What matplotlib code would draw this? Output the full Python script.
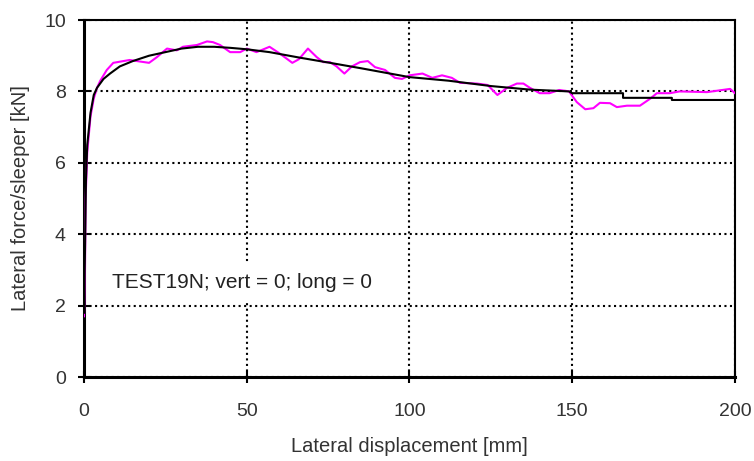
import matplotlib.pyplot as plt

plt.rcParams['font.family'] = ['Liberation Sans', 'DejaVu Sans']

# courbe mesuree (magenta)
x_mes = [0, 0.3, 0.5, 1, 2, 3, 4, 5, 7, 9, 14, 20, 22.4, 25.5, 28.5, 30.4, 34.7, 37.8, 39.6,
         41.8, 44.9, 48, 50, 53, 57, 60, 64, 66, 68.8, 71.5, 73.5, 75.6, 77.6, 80, 82.3,
         84.8, 87.2, 89.4, 92.5, 95.5, 97.7, 100, 104, 107, 110, 113, 115.5, 120.7, 124,
         127, 130, 133, 135, 137, 140, 143, 146, 149, 151.4, 154, 156.5, 158.5, 161.6,
         163.7, 166.8, 170.8, 174, 176, 180, 183, 191.4, 198.5, 200]
y_mes = [1.7, 3.0, 5.0, 6.3, 7.3, 7.8, 8.1, 8.3, 8.6, 8.8, 8.88, 8.8, 8.96, 9.2, 9.15, 9.25,
         9.3, 9.4, 9.38, 9.3, 9.1, 9.1, 9.2, 9.1, 9.25, 9.07, 8.8, 8.9, 9.2, 8.96, 8.82,
         8.82, 8.7, 8.5, 8.7, 8.82, 8.85, 8.68, 8.6, 8.38, 8.35, 8.45, 8.5, 8.38, 8.45,
         8.38, 8.24, 8.22, 8.18, 7.9, 8.1, 8.22, 8.22, 8.1, 7.95, 7.95, 8.04, 8.0, 7.7,
         7.5, 7.53, 7.68, 7.67, 7.56, 7.6, 7.6, 7.8, 7.95, 7.95, 8.0, 7.98, 8.07, 7.95]

# courbe calculee (noire)
x_calc = [0, 0.3, 0.6, 1, 2, 3, 4, 6, 8, 11, 15, 20, 25, 30, 35, 40, 45, 50, 57, 66, 75.6,
          85, 100, 112, 125, 137, 149, 150, 165.6, 165.6, 180.6, 180.6, 200]
y_calc = [1.8, 3.5, 5.5, 6.5, 7.4, 7.9, 8.1, 8.35, 8.5, 8.7, 8.85, 9.0, 9.1, 9.2, 9.25,
          9.25, 9.22, 9.18, 9.1, 8.95, 8.8, 8.65, 8.4, 8.3, 8.15, 8.05, 8.0, 7.95, 7.95,
          7.82, 7.82, 7.76, 7.76]

x_ticks = [0, 50, 100, 150, 200]
y_ticks = [0, 2, 4, 6, 8, 10]

fig = plt.figure(figsize=(7.54, 4.61), dpi=100)
ax = fig.add_axes([0.1114, 0.1822, 0.8634, 0.7744])

ax.grid(True, color='black', linestyle=':', linewidth=1.5)
ax.set_axisbelow(True)

ax.plot(x_mes, y_mes, color='#ff00ff', linewidth=1.5, zorder=3)
ax.plot(x_calc, y_calc, color='black', linewidth=1.5, zorder=4)

ax.text(8.6, 2.66, "TEST19N; vert = 0; long = 0", fontsize=15, color='#222222',
        va='center', ha='left', zorder=5,
        bbox=dict(facecolor='white', edgecolor='none', pad=6))

ax.set_xlim(0, 200)
ax.set_ylim(0, 10)
ax.set_xticks(x_ticks)
ax.set_yticks(y_ticks)
ax.tick_params(direction='inout', length=8, width=1.5, labelsize=14,
               labelcolor='#333333')
ax.tick_params(axis='x', pad=15)
ax.tick_params(axis='y', pad=9)
for s in ax.spines.values():
    s.set_linewidth(1.5)
ax.spines['left'].set_linewidth(2.2)
ax.spines['bottom'].set_linewidth(2.2)

ax.set_xlabel("Lateral displacement [mm]", fontsize=14.5, color='#333333', labelpad=12)
ax.set_ylabel("Lateral force/sleeper [kN]", fontsize=14.5, color='#333333', labelpad=10)

plt.savefig("out.png", dpi=100)
